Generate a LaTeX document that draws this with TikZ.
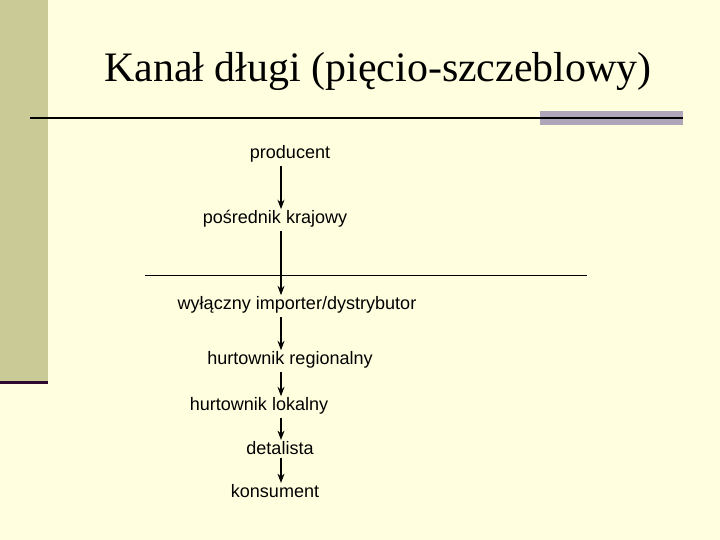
\documentclass[tikz,border=0pt]{standalone}
\usepackage{fontspec}
\setmainfont{Liberation Serif}
\setsansfont{Liberation Sans}
\usepackage{xcolor}
\usetikzlibrary{arrows.meta}
\definecolor{cream}{RGB}{255,255,224}
\definecolor{olive}{RGB}{202,202,150}
\definecolor{barcol}{RGB}{176,166,186}
\definecolor{plum}{RGB}{45,10,45}
\tikzset{
  step label/.style={font=\sffamily\fontsize{15.4}{18}\selectfont, inner sep=1pt},
  flow/.style={-{Stealth[length=8pt,width=6pt]}, line width=0.9pt, shorten <=2pt}
}
\begin{document}
\begin{tikzpicture}[x=0.03cm, y=-0.03cm]
    % slide background
    \fill[cream] (0,0) rectangle (720,540);
    \fill[olive] (0,0) rectangle (48,383);
    \fill[plum] (0,381.5) rectangle (48,384.5);
    \fill[barcol] (540,111) rectangle (683,125.5);
    \draw[line width=1.6pt] (30,118) -- (683,118);
    \node[anchor=base west, inner sep=0pt, font=\fontsize{35.8}{40}\selectfont] (title) at (104,82) {Kanał długi (pięcio-szczeblowy)};
    % steps of the channel
    \node[step label] (producent) at (290,154) {producent};
    \node[step label] (posrednik) at (275,219) {pośrednik krajowy};
    \draw[line width=0.8pt] (145,275) -- (587,275);
    \node[step label] (importer) at (297,305) {wyłączny importer/dystrybutor};
    \node[step label] (regionalny) at (290,360) {hurtownik regionalny};
    \node[step label] (lokalny) at (259,406) {hurtownik lokalny};
    \node[step label] (detalista) at (280,448) {detalista};
    \node[step label] (konsument) at (275,491) {konsument};
    \coordinate (ax) at (281,0);
    \draw[flow] (producent.south -| ax) -- (posrednik.north -| ax);
    \draw[flow] (posrednik.south -| ax) -- (importer.north -| ax);
    \draw[flow] (importer.south -| ax) -- (regionalny.north -| ax);
    \draw[flow] (regionalny.south -| ax) -- (lokalny.north -| ax);
    \draw[flow] (lokalny.south -| ax) -- (detalista.north -| ax);
    \draw[flow] (detalista.south -| ax) -- (konsument.north -| ax);
\end{tikzpicture}
\end{document}
